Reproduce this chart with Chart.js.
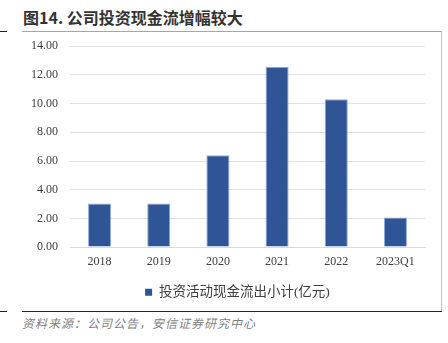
<!DOCTYPE html>
<html>
<head>
<meta charset="utf-8">
<script src="https://cdn.jsdelivr.net/npm/chart.js@4/dist/chart.umd.min.js"></script>
<style>
  html, body { margin: 0; padding: 0; background: #fff; }
  body { width: 448px; height: 343px; position: relative; overflow: hidden; }
  .title {
    position: absolute; left: 23px; top: 7px;
    font: bold 16px "Noto Sans CJK SC", sans-serif; color: #333;
    line-height: 20px; white-space: nowrap;
  }
  .rule-top { position: absolute; left: 22px; top: 31px; width: 419px; height: 1px; background: #a6a6a6; }
  .rule-right { position: absolute; left: 441px; top: 31px; width: 1px; height: 281px; background: #bfbfbf; }
  .rule-bottom { position: absolute; left: 22px; top: 311px; width: 420px; height: 1px; background: #222; }
  .dash { position: absolute; left: 0; width: 7px; height: 1px; background: #222; }
  .source {
    position: absolute; left: 22px; top: 314px;
    font: italic 12px "Noto Sans CJK SC", sans-serif; color: #7f7f7f;
    letter-spacing: 1px; white-space: nowrap;
  }
  .wrap { position: absolute; left: 22px; top: 27px; width: 419px; height: 284px; }
</style>
</head>
<body>
<div class="title">图14. 公司投资现金流增幅较大</div>
<div class="rule-top"></div>
<div class="rule-right"></div>
<div class="rule-bottom"></div>
<div class="dash" style="top:31px"></div>
<div class="dash" style="top:311px"></div>
<div class="wrap"><canvas id="chart"></canvas></div>
<div class="source">资料来源：公司公告，安信证券研究中心</div>
<script>
// 投资活动现金流出小计（亿元）
const periods = ["2018", "2019", "2020", "2021", "2022", "2023Q1"];
const outflow = [3.03, 3.03, 6.4, 12.57, 10.3, 2.06];
const seriesName = "投资活动现金流出小计(亿元)";

const serif = "'Liberation Serif', 'Noto Sans CJK SC', serif";

// nudge the legend so it sits under the middle of the bars
const legendShift = {
  id: "legendShift",
  afterLayout(chart) {
    chart.legend.left += 14;
    chart.legend.right += 14;
  }
};

new Chart(document.getElementById("chart"), {
  type: "bar",
  data: {
    labels: periods,
    datasets: [
      {
        label: seriesName,
        data: outflow,
        backgroundColor: "#2f5597",
        borderColor: "#8faadc",
        borderWidth: 1,
        barPercentage: 0.39,
        categoryPercentage: 1
      }
    ]
  },
  options: {
    responsive: true,
    maintainAspectRatio: false,
    animation: false,
    layout: { padding: { top: 0, right: 16, left: 0, bottom: 2 } },
    plugins: {
      tooltip: { enabled: false },
      legend: {
        position: "bottom",
        labels: {
          color: "#404040",
          font: { family: serif, size: 13.5 },
          boxWidth: 7,
          boxHeight: 7,
          padding: 8,
          generateLabels: chart => [{
            text: seriesName,
            fillStyle: "#2f5597",
            strokeStyle: "#2f5597",
            lineWidth: 0,
            fontColor: "#404040",
            datasetIndex: 0
          }]
        }
      }
    },
    scales: {
      x: {
        grid: { display: false, drawTicks: false },
        border: { color: "#d9d9d9" },
        ticks: { color: "#404040", font: { family: serif, size: 12 }, padding: 8 }
      },
      y: {
        min: 0,
        max: 14,
        afterFit: axis => { axis.width = 48; },
        grid: { color: "#e0e0e0", drawTicks: false },
        border: { display: false },
        ticks: {
          stepSize: 2,
          padding: 12,
          color: "#404040",
          font: { family: serif, size: 12 },
          callback: v => v.toFixed(2)
        }
      }
    }
  },
  plugins: [legendShift]
});
</script>
</body>
</html>
